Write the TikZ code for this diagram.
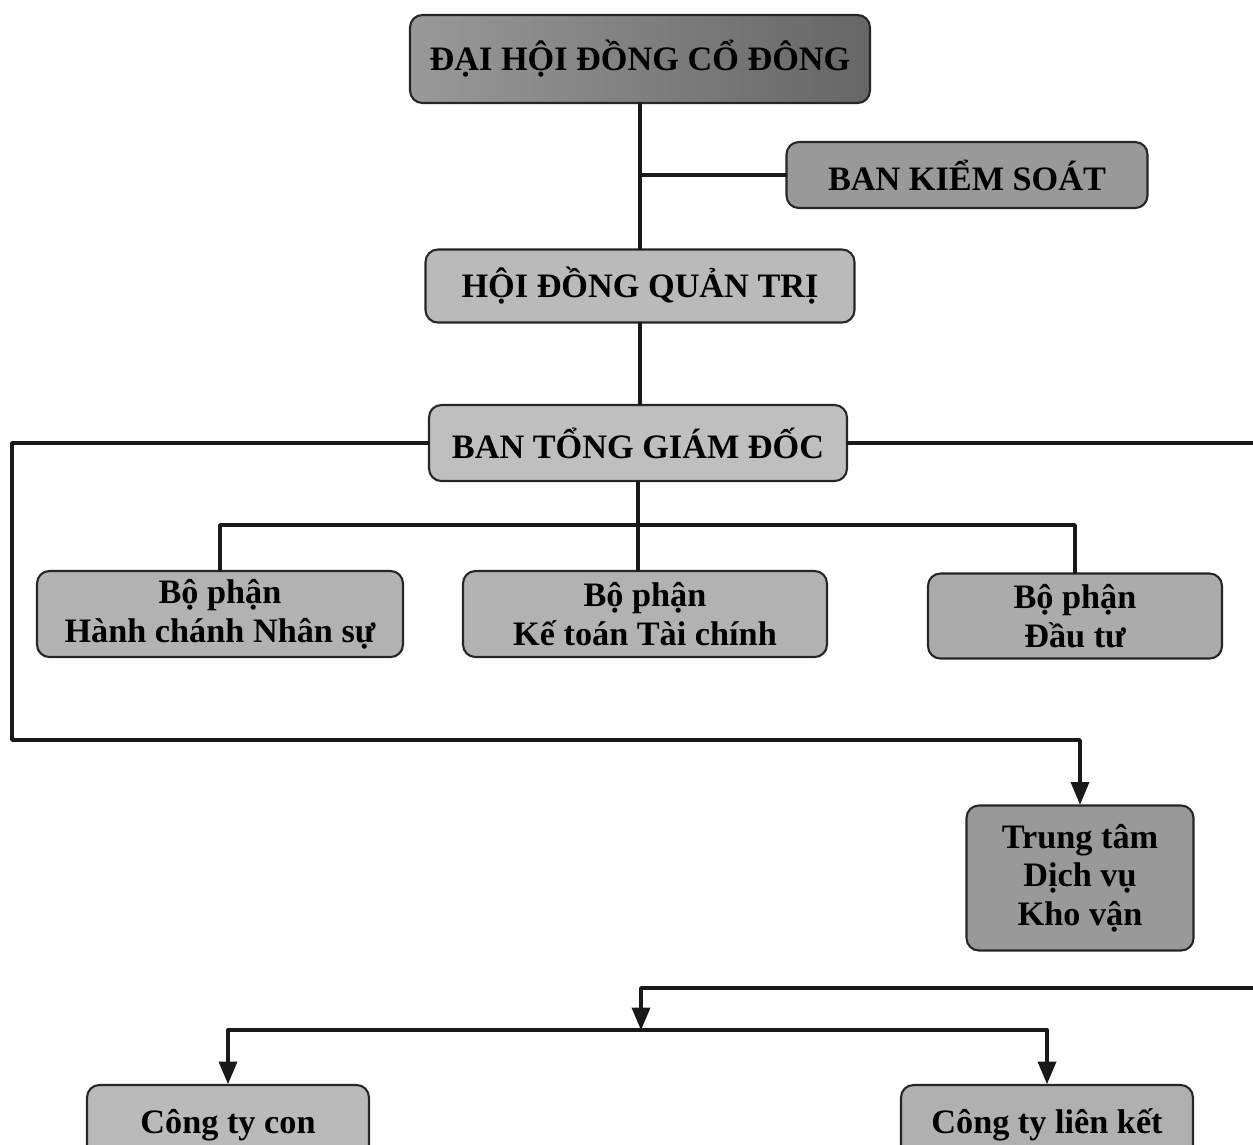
\documentclass[tikz,border=0pt]{standalone}
\usepackage{fontspec}
\setmainfont{Liberation Serif}
\usetikzlibrary{arrows}

\tikzset{
  box/.style={draw=black!85,line width=1.2pt,rounded corners=7pt,fill=black!30,
    align=center,inner sep=0pt,font=\bfseries\fontsize{19.5}{22}\selectfont},
  capbox/.style={box,font=\bfseries\fontsize{19.5}{22}\selectfont},
  link/.style={line width=2pt,draw=black!90}
}

\begin{document}
\begin{tikzpicture}[x=0.02cm,y=-0.02cm,line cap=round,line join=round,>=triangle 45]
\useasboundingbox (0,0) rectangle (1253,1144);
\clip (0,0) rectangle (1253,1144);

% top of the chart
\node[capbox,minimum width=9.2cm,minimum height=1.76cm,left color=black!40,right color=black!60] (dhdcd) at (640,59) {ĐẠI HỘI ĐỒNG CỔ ĐÔNG};
\node[capbox,minimum width=7.22cm,minimum height=1.32cm,fill=black!40] (bks) at (967,175) {BAN KIỂM SOÁT};
\node[capbox,minimum width=8.58cm,minimum height=1.46cm,fill=black!27] (hdqt) at (640,286) {HỘI ĐỒNG QUẢN TRỊ};
\node[capbox,minimum width=8.36cm,minimum height=1.52cm,fill=black!25] (btgd) at (638,443) {BAN TỔNG GIÁM ĐỐC};

% departments
\node[box,minimum width=7.32cm,minimum height=1.72cm] (hcns) at (220,614) {Bộ phận\\Hành chánh Nhân sự};
\node[box,minimum width=7.28cm,minimum height=1.72cm] (kttc) at (645,614) {Bộ phận\\Kế toán Tài chính};
\node[box,minimum width=5.88cm,minimum height=1.70cm,fill=black!33] (dautu) at (1075,616) {Bộ phận\\Đầu tư};
\node[box,minimum width=4.54cm,minimum height=2.9cm,fill=black!40] (ttdv) at (1080,878) {Trung tâm\\Dịch vụ\\Kho vận};

% companies
\node[box,minimum width=5.64cm,minimum height=1.6cm,fill=black!27] (ctc) at (228,1125) {Công ty con};
\node[box,minimum width=5.84cm,minimum height=1.6cm,fill=black!31] (ctlk) at (1047,1125) {Công ty liên kết};

\coordinate (bksjoin) at (hdqt.north |- bks.west);
\coordinate (deptbus) at (641,525);
\coordinate (leftturn) at (12,740);
\coordinate (rightturn) at (1290,988);
\coordinate (subbus) at (641,1030);

\draw[link] (dhdcd.south) -- (dhdcd.south |- hdqt.north);
\draw[link] (bksjoin) -- (bks.west);
\draw[link] (hdqt.south) -- (hdqt.south |- btgd.north);
\draw[link] (btgd.south) -- (btgd.south |- kttc.north);
\draw[link] (hcns.north) |- (deptbus) -| (dautu.north);
\draw[link,->] (btgd.west) -| (leftturn) -| (ttdv.north);
\draw[link,->] (btgd.east) -| (rightturn) -| (subbus);
\draw[link] (ctc.north |- subbus) -- (ctlk.north |- subbus);
\draw[link,->] (ctc.north |- subbus) -- (ctc.north);
\draw[link,->] (ctlk.north |- subbus) -- (ctlk.north);

\end{tikzpicture}
\end{document}
